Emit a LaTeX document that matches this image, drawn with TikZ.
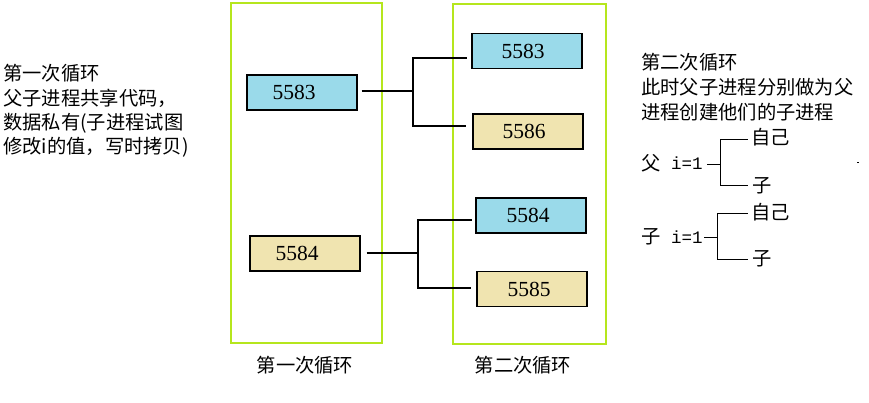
\documentclass[tikz,border=0pt]{standalone}
\usepackage{fontspec}
\setmainfont{Liberation Serif}
\setmonofont{Liberation Mono}
\newfontfamily\cjk{Noto Sans CJK SC}
\definecolor{pblue}{RGB}{154,218,234}
\definecolor{ptan}{RGB}{240,228,176}
\definecolor{pgreen}{RGB}{181,230,29}
\begin{document}
\begin{tikzpicture}[x=1pt,y=-1pt,
  proc/.style={draw=black,line width=1.2pt,minimum width=110pt,minimum height=35pt,inner sep=0pt,font=\fontsize{21.5}{21.5}\selectfont},
  frame/.style={draw=pgreen,line width=1.2pt},
  conn/.style={draw=black,line width=1.2pt},
  txt/.style={anchor=west,inner sep=0pt,font=\cjk\fontsize{19.3}{19.3}\selectfont},
  captxt/.style={inner sep=0pt,font=\cjk\fontsize{19.3}{19.3}\selectfont},
  eq/.style={anchor=west,inner sep=0pt,font=\ttfamily\fontsize{17.5}{17.5}\selectfont}]
\useasboundingbox (0,0) rectangle (869,402);
% frames
\draw[frame] (231,3) rectangle (382,343);
\draw[frame] (453,4) rectangle (606,344);
% process boxes
\node[proc,fill=pblue,minimum width=110pt] (L1) at (302,92.5) {\raisebox{-2pt}{\hspace*{-16pt}5583}};
\node[proc,fill=ptan] (L2) at (305,253.5) {\raisebox{-2pt}{\hspace*{-16pt}5584}};
\node[proc,fill=pblue] (R1) at (527,51) {\raisebox{-1pt}{\hspace*{-8pt}5583}};
\node[proc,fill=ptan] (R2) at (528,131.5) {\raisebox{-2pt}{\hspace*{-8pt}5586}};
\node[proc,fill=pblue] (R3) at (531,215.5) {\raisebox{-1pt}{\hspace*{-6pt}5584}};
\node[proc,fill=ptan] (R4) at (532,289) {\raisebox{-1pt}{\hspace*{-6pt}5585}};
% connectors
\coordinate (f1) at (413,91);
\coordinate (f2) at (418,253);
\draw[conn] ([xshift=4pt]L1.east |- f1) -- (f1);
\draw[conn] (f1) |- ([xshift=-4pt]R1.west |- 0,58) coordinate (e1);
\draw[conn] (f1) |- ([xshift=-6pt]R2.west |- 0,126) coordinate (e2);
\draw[conn] ([xshift=6pt]L2.east |- f2) -- (f2);
\draw[conn] (f2) |- ([xshift=-3pt]R3.west |- 0,220) coordinate (e3);
\draw[conn] (f2) |- ([xshift=-5pt]R4.west |- 0,288) coordinate (e4);
% captions
\node[captxt] (c1) at (305,365) {第一次循环};
\node[captxt] (c2) at (523,365) {第二次循环};
% left text
\node[txt] (t1) at (3,73) {第一次循环};
\node[txt] (t2) at (3,98) {父子进程共享代码，};
\node[txt] (t3) at (3,123) {数据私有(子进程试图};
\node[txt] (t4) at (3,147) {修改i的值，写时拷贝)};
% right text
\node[txt] (s1) at (641,62) {第二次循环};
\node[txt] (s2) at (641,87) {此时父子进程分别做为父};
\node[txt] (s3) at (641,112) {进程创建他们的子进程};
% tree 1
\node[txt] (a0) at (641,163) {父};
\node[eq] (a1) at (671,163) {i=1};
\coordinate (g1) at (720,164);
\draw[conn,line width=1pt] (707,164) -- (g1);
\draw[conn,line width=1pt] (g1) |- (748,139) coordinate (h1);
\draw[conn,line width=1pt] (g1) |- (748,185) coordinate (h2);
\node[txt] (a2) at (751,137) {自己};
\node[txt] (a3) at (752,186) {子};
\draw[line width=0.8pt] (857,162) -- (859,162);
% tree 2
\node[txt] (b0) at (641,237) {子};
\node[eq] (b1) at (671,237) {i=1};
\coordinate (g2) at (717,237);
\draw[conn,line width=1pt] (704,237) -- (g2);
\draw[conn,line width=1pt] (g2) |- (748,213) coordinate (h3);
\draw[conn,line width=1pt] (g2) |- (748,259) coordinate (h4);
\node[txt] (b2) at (751,212) {自己};
\node[txt] (b3) at (752,259) {子};
\end{tikzpicture}
\end{document}
